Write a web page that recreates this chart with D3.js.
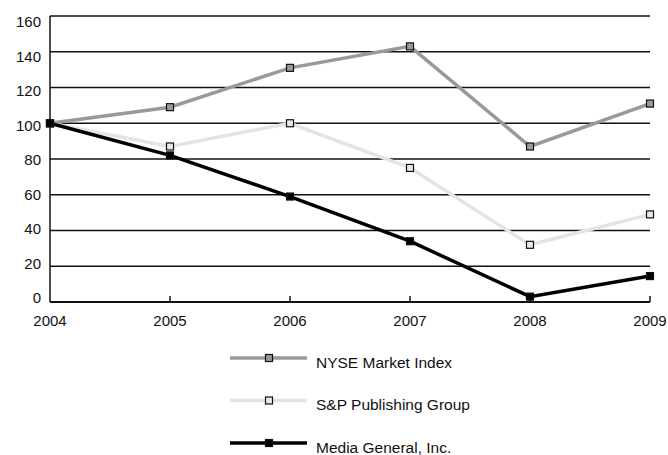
<!DOCTYPE html>
<html>
<head>
<meta charset="utf-8">
<script src="https://cdn.jsdelivr.net/npm/d3@7"></script>
<style>
  body { margin: 0; background: #fff; }
  text { font-family: "Liberation Sans", Arial, sans-serif; fill: #111; }
</style>
</head>
<body>
<script>
// data
var years = [2004, 2005, 2006, 2007, 2008, 2009];
var nyse = [100, 109, 131, 143, 87, 111];
var spPublishing = [100, 87, 100, 75, 32, 49];
var mediaGeneral = [100, 82, 59, 34, 3, 14.5];
var yTicks = [0, 20, 40, 60, 80, 100, 120, 140, 160];
var seriesNames = ["NYSE Market Index", "S&P Publishing Group", "Media General, Inc."];

var series = [
  { name: seriesNames[0], values: nyse, line: "#999999", fill: "#9a9a9a", width: 3.5 },
  { name: seriesNames[1], values: spPublishing, line: "#e4e4e4", fill: "#e8e8e8", width: 3.5 },
  { name: seriesNames[2], values: mediaGeneral, line: "#000000", fill: "#000000", width: 3.5 }
];

var svg = d3.select("body").append("svg")
  .attr("width", 668)
  .attr("height", 455);

var x = d3.scaleLinear().domain([2004, 2009]).range([50, 650]);
var y = d3.scaleLinear().domain([0, 160]).range([302, 16]);
// the value labels sit a bit tighter than the grid
var yLab = d3.scaleLinear().domain([0, 160]).range([298, 22]);

// horizontal grid
svg.selectAll("line.grid").data(yTicks.filter(function(d){ return d > 0; }))
  .enter().append("line")
  .attr("class", "grid")
  .attr("x1", x(2004)).attr("x2", x(2009))
  .attr("y1", function(d){ return y(d); })
  .attr("y2", function(d){ return y(d); })
  .attr("stroke", "#111").attr("stroke-width", 1.5);

// y labels
svg.selectAll("text.ylab").data(yTicks)
  .enter().append("text")
  .attr("class", "ylab")
  .attr("x", 41)
  .attr("y", function(d){ return yLab(d); })
  .attr("dy", "0.36em")
  .attr("text-anchor", "end")
  .attr("font-size", 15)
  .text(function(d){ return d; });

// axes lines
svg.append("line")
  .attr("x1", x(2004)).attr("x2", x(2004))
  .attr("y1", y(160)).attr("y2", y(0))
  .attr("stroke", "#111").attr("stroke-width", 1.5);
svg.append("line")
  .attr("x1", x(2004)).attr("x2", x(2009))
  .attr("y1", y(0)).attr("y2", y(0))
  .attr("stroke", "#111").attr("stroke-width", 2);

// x ticks (pointing up)
svg.selectAll("line.xtick").data(years.slice(1))
  .enter().append("line")
  .attr("class", "xtick")
  .attr("x1", function(d){ return x(d); })
  .attr("x2", function(d){ return x(d); })
  .attr("y1", y(0) - 6).attr("y2", y(0))
  .attr("stroke", "#111").attr("stroke-width", 1.5);

svg.selectAll("text.xlab").data(years)
  .enter().append("text")
  .attr("class", "xlab")
  .attr("x", function(d){ return x(d); })
  .attr("y", 321)
  .attr("dy", "0.36em")
  .attr("text-anchor", "middle")
  .attr("font-size", 15)
  .text(function(d){ return d; });

var line = d3.line()
  .x(function(d, i){ return x(years[i]); })
  .y(function(d){ return y(d); });

var ms = 7; // marker size

series.forEach(function(s) {
  svg.append("path")
    .attr("d", line(s.values))
    .attr("fill", "none")
    .attr("stroke", s.line)
    .attr("stroke-width", s.width)
    .attr("stroke-linejoin", "miter");
});

series.forEach(function(s) {
  svg.selectAll(null).data(s.values)
    .enter().append("rect")
    .attr("x", function(d, i){ return x(years[i]) - ms / 2; })
    .attr("y", function(d){ return y(d) - ms / 2; })
    .attr("width", ms).attr("height", ms)
    .attr("fill", s.fill)
    .attr("stroke", "#111").attr("stroke-width", 1.2);
});

// legend
var legY = d3.scalePoint().domain(seriesNames).range([358, 443]);
var leg = svg.selectAll("g.leg").data(series)
  .enter().append("g")
  .attr("class", "leg")
  .attr("transform", function(d){ return "translate(230," + legY(d.name) + ")"; });

leg.append("line")
  .attr("x1", 0).attr("x2", 77)
  .attr("stroke", function(d){ return d.line; })
  .attr("stroke-width", 3.5);
leg.append("rect")
  .attr("x", 39 - ms / 2).attr("y", -ms / 2)
  .attr("width", ms).attr("height", ms)
  .attr("fill", function(d){ return d.fill; })
  .attr("stroke", "#111").attr("stroke-width", 1.2);
leg.append("text")
  .attr("x", 86)
  .attr("y", 4)
  .attr("dy", "0.36em")
  .attr("font-size", 15.5)
  .text(function(d){ return d.name; });
</script>
</body>
</html>
